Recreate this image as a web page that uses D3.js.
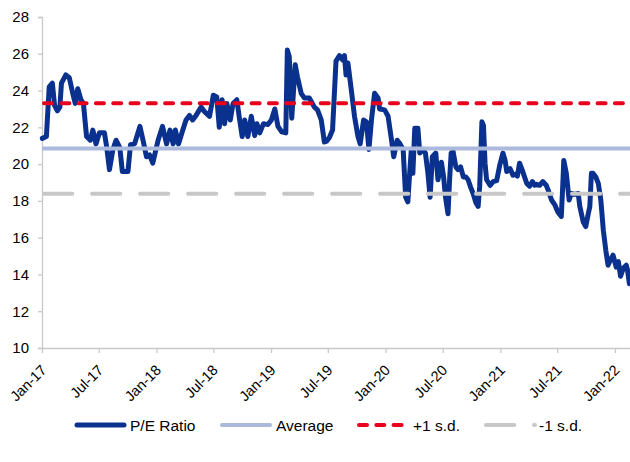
<!DOCTYPE html>
<html><head><meta charset="utf-8">
<script src="https://cdn.jsdelivr.net/npm/d3@7"></script>
<style>
html,body{margin:0;padding:0;background:#fff;}
svg{display:block;font-family:"Liberation Sans",Arial,sans-serif;}
</style></head>
<body><div id="chart"></div>
<script>
// ---- data ----
const dates = ["2017-01-02","2017-01-15","2017-01-24","2017-02-03","2017-02-10","2017-02-19","2017-02-27","2017-03-04","2017-03-18","2017-03-29",
"2017-04-09","2017-04-17","2017-04-25","2017-05-05","2017-05-13","2017-05-23","2017-06-04","2017-06-12","2017-06-22","2017-07-03",
"2017-07-19","2017-07-26","2017-08-04","2017-08-15","2017-08-25","2017-09-06","2017-09-14","2017-10-02","2017-10-10","2017-10-23",
"2017-11-09","2017-11-19","2017-11-30","2017-12-10","2017-12-20","2018-01-06","2018-01-20","2018-02-02","2018-02-13","2018-02-23",
"2018-03-02","2018-03-12","2018-03-23","2018-04-05","2018-04-16","2018-04-26","2018-05-07","2018-05-23","2018-06-03","2018-06-19",
"2018-07-01","2018-07-12","2018-07-20","2018-07-29","2018-08-06","2018-08-13","2018-08-24","2018-09-02","2018-09-14","2018-09-23",
"2018-10-01","2018-10-09","2018-10-19","2018-10-30","2018-11-10","2018-11-17","2018-11-26","2018-12-08","2018-12-22","2019-01-02",
"2019-01-13","2019-01-23","2019-02-04","2019-02-17","2019-02-22","2019-02-28","2019-03-08","2019-03-19","2019-03-26","2019-04-07",
"2019-04-17","2019-05-03","2019-05-19","2019-05-29","2019-06-10","2019-06-20","2019-06-27","2019-07-06","2019-07-16","2019-07-27",
"2019-08-07","2019-08-18","2019-08-23","2019-08-28","2019-09-03","2019-09-14","2019-09-24","2019-10-05","2019-10-12","2019-10-23",
"2019-11-01","2019-11-09","2019-11-17","2019-11-27","2019-12-08","2019-12-13","2019-12-29","2020-01-09","2020-01-20","2020-01-27",
"2020-02-07","2020-02-16","2020-02-26","2020-03-05","2020-03-12","2020-03-17","2020-03-23","2020-03-28","2020-04-03","2020-04-13",
"2020-04-19","2020-04-29","2020-05-07","2020-05-15","2020-05-22","2020-05-29","2020-06-09","2020-06-16","2020-06-27","2020-07-04",
"2020-07-10","2020-07-18","2020-07-23","2020-07-28","2020-08-03","2020-08-12","2020-08-19","2020-08-27","2020-09-05","2020-09-13",
"2020-09-20","2020-09-28","2020-10-06","2020-10-15","2020-10-22","2020-10-27","2020-11-03","2020-11-08","2020-11-13","2020-11-18",
"2020-11-29","2020-12-09","2020-12-20","2020-12-30","2021-01-09","2021-01-16","2021-01-21","2021-02-01","2021-02-10","2021-02-17",
"2021-02-24","2021-03-03","2021-03-11","2021-03-19","2021-03-26","2021-04-04","2021-04-13","2021-04-20","2021-04-27","2021-05-06",
"2021-05-16","2021-05-27","2021-06-02","2021-06-13","2021-06-23","2021-07-03","2021-07-14","2021-07-19","2021-07-22","2021-07-30",
"2021-08-08","2021-08-15","2021-08-26","2021-09-06","2021-09-11","2021-09-22","2021-09-30","2021-10-08","2021-10-13","2021-10-18",
"2021-10-23","2021-11-01","2021-11-09","2021-11-17","2021-11-25","2021-12-03","2021-12-10","2021-12-18","2021-12-26","2022-01-05",
"2022-01-12","2022-01-19","2022-01-28","2022-02-06","2022-02-10","2022-02-16"];

const peRatio = [21.4,21.5,24.2,24.4,23.2,22.9,23.1,24.4,24.85,24.7,
23.85,23.3,24.1,23.5,23.3,21.5,21.3,21.85,21.1,21.7,
21.7,20.95,19.7,20.8,21.3,20.9,19.6,19.6,21.05,21.1,
22.05,21.3,20.4,20.5,20.05,21.3,22.05,21.1,21.85,21.1,
21.85,21.1,21.7,22.4,22.65,22.4,22.65,23.1,22.85,22.6,
23.75,23.65,22.0,23.5,22.2,23.3,22.4,23.3,23.5,22.4,
21.5,22.4,21.5,22.6,21.55,22.2,21.7,22.2,22.15,22.4,
23.0,22.05,21.75,21.7,26.2,25.85,22.5,25.4,24.75,23.85,
23.6,23.6,23.1,22.95,22.4,21.2,21.25,21.45,21.85,25.6,
25.9,25.65,25.9,24.85,25.5,24.0,22.6,21.5,21.1,22.4,
22.3,20.8,22.4,23.85,23.6,23.0,22.95,22.6,21.3,20.4,
21.3,21.1,20.8,18.2,17.95,19.3,20.8,19.5,21.95,21.95,
20.6,20.8,20.6,19.5,18.2,20.4,20.6,19.15,20.1,19.3,
18.2,17.3,19.15,20.6,20.7,19.85,19.7,19.85,19.3,19.3,
19.15,18.75,18.4,17.9,17.7,18.8,22.3,22.1,20.05,19.15,
18.85,19.05,19.1,19.95,20.6,20.2,19.6,19.75,19.4,19.45,
19.35,20.05,19.7,19.3,18.95,18.8,19.05,18.85,18.9,18.85,
19.05,18.85,18.6,18.05,17.8,17.4,17.15,18.95,20.2,19.5,
18.05,18.4,18.35,18.4,17.7,16.85,16.6,17.3,17.7,19.5,
19.5,19.3,18.95,18.05,16.4,15.3,14.5,14.8,15.05,14.4,
14.7,13.9,14.35,14.5,14.25,13.5];

const average = 20.85;
const plusOneSd = 23.31;
const minusOneSd = 18.39;

const yTicks = [10,12,14,16,18,20,22,24,26,28];
const xTickDates = ["2017-01-01","2017-07-01","2018-01-01","2018-07-01","2019-01-01","2019-07-01",
                    "2020-01-01","2020-07-01","2021-01-01","2021-07-01","2022-01-01"];
const xDomain = ["2017-01-01","2022-02-18"];
const legendLabels = ["P/E Ratio","Average","+1 s.d.","-1 s.d."];

// ---- drawing ----
const W = 630, H = 462;
const parse = d3.timeParse("%Y-%m-%d");
const fmt = d3.timeFormat("%b-%y");
const svg = d3.select("#chart").append("svg").attr("width", W).attr("height", H);

const x = d3.scaleTime().domain(xDomain.map(parse)).range([42, 630]);
const y = d3.scaleLinear().domain([10, 28]).range([348, 17]);

const axisColor = "#c8c8c8";

// y axis
const yAxis = svg.append("g").attr("transform", "translate(42,0)")
  .call(d3.axisLeft(y).tickValues(yTicks).tickSize(4).tickPadding(9).tickFormat(d3.format("d")));
yAxis.select(".domain").attr("stroke", axisColor).attr("stroke-width", 1.3);
yAxis.selectAll(".tick line").attr("stroke", axisColor).attr("stroke-width", 1.3);
yAxis.selectAll(".tick text").attr("fill", "#000").style("font-size", "15px")
  .style("font-family", "'Liberation Sans',Arial,sans-serif");

// x axis
const xAxis = svg.append("g").attr("transform", "translate(0,348)")
  .call(d3.axisBottom(x).tickValues(xTickDates.map(parse)).tickSize(5).tickSizeOuter(0).tickFormat(fmt));
xAxis.select(".domain").attr("stroke", axisColor).attr("stroke-width", 1.3);
xAxis.selectAll(".tick line").attr("stroke", axisColor).attr("stroke-width", 1.3);
xAxis.selectAll(".tick text")
  .attr("fill", "#000").style("font-size", "14.5px")
  .style("font-family", "'Liberation Sans',Arial,sans-serif")
  .attr("text-anchor", "end")
  .attr("dy", 0).attr("y", 0)
  .attr("transform", "translate(5,23) rotate(-45)");

// P/E line
const series = dates.map((d, i) => ({date: parse(d), v: peRatio[i]}));
const line = d3.line().x(d => x(d.date)).y(d => y(d.v)).curve(d3.curveLinear);
svg.append("path").datum(series)
  .attr("d", line).attr("fill", "none")
  .attr("stroke", "#0b318f").attr("stroke-width", 5)
  .attr("stroke-linejoin", "round").attr("stroke-linecap", "round");

// reference lines
const [x0, x1] = x.range();
svg.append("line").attr("x1", x0).attr("x2", x1).attr("y1", y(average)).attr("y2", y(average))
  .attr("stroke", "#abb9dc").attr("stroke-width", 4);
svg.append("line").attr("x1", x0 + 2).attr("x2", x1).attr("y1", y(plusOneSd)).attr("y2", y(plusOneSd))
  .attr("stroke", "#e8001c").attr("stroke-width", 4).attr("stroke-linecap", "round")
  .attr("stroke-dasharray", "8 9.3");
svg.append("line").attr("x1", x0 + 2).attr("x2", x1).attr("y1", y(minusOneSd)).attr("y2", y(minusOneSd))
  .attr("stroke", "#c8c8c8").attr("stroke-width", 4).attr("stroke-linecap", "round")
  .attr("stroke-dasharray", "28.3 19.7");

// legend
const legY = 425;
const leg = svg.append("g");
const items = [
  {x1: 77, x2: 124, tx: 130, stroke: "#0b318f", w: 5, dash: null},
  {x1: 222, x2: 270, tx: 276, stroke: "#abb9dc", w: 4, dash: null},
  {x1: 359, x2: 402, tx: 413, stroke: "#e8001c", w: 4, dash: "8 9.3"},
  {x1: 486, x2: 535, tx: 539, stroke: "#c8c8c8", w: 4, dash: "28.3 19.7"}
];
items.forEach((it, i) => {
  leg.append("line").attr("x1", it.x1).attr("x2", it.x2).attr("y1", legY).attr("y2", legY)
    .attr("stroke", it.stroke).attr("stroke-width", it.w).attr("stroke-linecap", "round")
    .attr("stroke-dasharray", it.dash);
  leg.append("text").attr("x", it.tx).attr("y", legY + 5.5)
    .style("font-size", "15.5px").attr("fill", "#000").text(legendLabels[i]);
});
</script></body></html>
